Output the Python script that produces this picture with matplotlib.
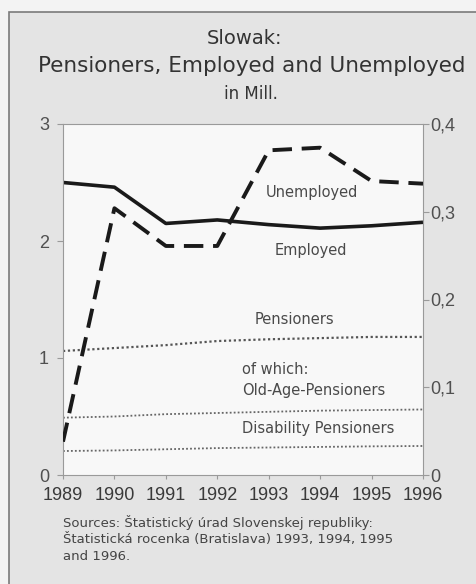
import matplotlib.pyplot as plt
from matplotlib.patches import Rectangle

# ============================================================
# Data
# ============================================================

years = [1989, 1990, 1991, 1992, 1993, 1994, 1995, 1996]

employed = [2.50, 2.46, 2.15, 2.18, 2.14, 2.11, 2.13, 2.16]          # Mill., left axis
unemployed = [0.038, 0.304, 0.261, 0.261, 0.370, 0.373, 0.335, 0.332]  # Mill., right axis
pensioners = [1.06, 1.085, 1.11, 1.145, 1.16, 1.17, 1.18, 1.18]
old_age = [0.49, 0.50, 0.52, 0.53, 0.54, 0.55, 0.555, 0.56]
disability = [0.205, 0.21, 0.22, 0.23, 0.235, 0.24, 0.245, 0.248]

left_ticks = [0, 1, 2, 3]
right_ticks = [0, 0.1, 0.2, 0.3, 0.4]
right_labels = ["0", "0,1", "0,2", "0,3", "0,4"]

# ============================================================
# Figure
# ============================================================

plt.rcParams['font.family'] = ['DejaVu Sans']
tickfont = ['Liberation Sans', 'DejaVu Sans']

fig = plt.figure(figsize=(4.77, 5.84), dpi=100)
fig.patch.set_facecolor('#f3f3f3')

# outer grey panel
fig.patches.append(Rectangle((9 / 477, -0.02), 1.0, 1 - 12 / 584 + 0.02,
                             transform=fig.transFigure, facecolor='#e4e4e4',
                             edgecolor='#7a7a7a', linewidth=1.2, zorder=-10))

ax = fig.add_axes([63 / 477, 1 - 475 / 584, 360 / 477, 351 / 584])
ax.set_facecolor('#f8f8f8')
for s in ax.spines.values():
    s.set_color('#9a9a9a')
    s.set_linewidth(0.8)

ax.plot(years, employed, color='#1a1a1a', lw=2.6, solid_capstyle='butt')
ax.plot(years, pensioners, color='#555555', lw=1.6, linestyle=(0, (1, 1.2)))
ax.plot(years, old_age, color='#666666', lw=1.3, linestyle=(0, (1, 1.2)))
ax.plot(years, disability, color='#666666', lw=1.3, linestyle=(0, (1, 1.2)))

ax.set_xlim(1989, 1996)
ax.set_ylim(0, 3)
ax.set_yticks(left_ticks)
ax.set_xticks(years)
ax.set_xticklabels([str(y) for y in years], family=tickfont, fontsize=13, color='#3a3a3a')
ax.set_yticklabels([str(t) for t in left_ticks], family=tickfont, fontsize=13, color='#505050')
ax.tick_params(axis='x', length=3, color='#9a9a9a', pad=6)
ax.tick_params(axis='y', length=4, color='#9a9a9a', pad=6)

ax2 = ax.twinx()
ax2.plot(years, unemployed, color='#1a1a1a', lw=2.8, linestyle=(0, (5, 2.5)))
ax2.set_ylim(0, 0.4)
ax2.set_yticks(right_ticks)
ax2.set_yticklabels(right_labels, family=tickfont, fontsize=13, color='#505050')
ax2.tick_params(axis='y', length=4, color='#9a9a9a', pad=1)
for s in ax2.spines.values():
    s.set_visible(False)

# line labels
lab = dict(fontsize=10.5, color='#4a4a4a', transform=fig.transFigure)
fig.text(312 / 477, 1 - 192 / 584, "Unemployed", ha='center', va='center', **lab)
fig.text(311 / 477, 1 - 250 / 584, "Employed", ha='center', va='center', **lab)
fig.text(294 / 477, 1 - 320 / 584, "Pensioners", ha='center', va='center', **lab)
fig.text(242 / 477, 1 - 370 / 584, "of which:", ha='left', va='center', **lab)
fig.text(242 / 477, 1 - 390 / 584, "Old-Age-Pensioners", ha='left', va='center', **lab)
fig.text(242 / 477, 1 - 428 / 584, "Disability Pensioners", ha='left', va='center', **lab)

# titles
fig.text(245 / 477, 1 - 38 / 584, "Slowak:", ha='center', va='center', fontsize=14, color='#333333')
fig.text(252 / 477, 1 - 66 / 584, "Pensioners, Employed and Unemployed", ha='center', va='center',
         fontsize=15.5, color='#333333')
fig.text(251 / 477, 1 - 94 / 584, "in Mill.", ha='center', va='center', fontsize=12, color='#333333')

# sources
fig.text(63 / 477, 1 - 539 / 584,
         "Sources: Štatistický úrad Slovenskej republiky:\n"
         "Štatistická rocenka (Bratislava) 1993, 1994, 1995\n"
         "and 1996.",
         ha='left', va='center', fontsize=9.5, color='#444444', linespacing=1.4)

fig.savefig("out.png", dpi=100, facecolor=fig.get_facecolor())
